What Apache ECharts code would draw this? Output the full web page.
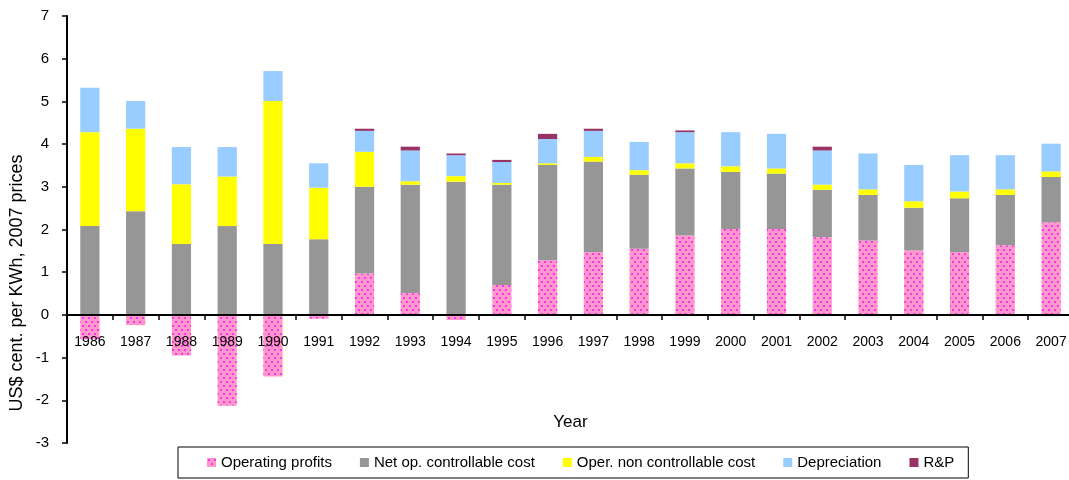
<!DOCTYPE html>
<html>
<head>
<meta charset="utf-8">
<script src="https://cdn.jsdelivr.net/npm/echarts@6/dist/echarts.min.js"></script>
<style>
  html, body { margin: 0; padding: 0; background: #fff; }
  #chart { width: 1069px; height: 480px; }
</style>
</head>
<body>
<div id="chart"></div>
<script>
// Electricity cost breakdown, US$ cent per kWh at 2007 prices
const years = ['1986','1987','1988','1989','1990','1991','1992','1993','1994','1995','1996',
               '1997','1998','1999','2000','2001','2002','2003','2004','2005','2006','2007'];
const operatingProfits = [-0.57,-0.24,-0.95,-2.13,-1.44,-0.09,0.97,0.51,-0.12,0.70,1.28,
                          1.47,1.55,1.86,2.01,2.01,1.82,1.74,1.51,1.47,1.63,2.17];
const netControllable  = [2.08,2.43,1.66,2.08,1.66,1.77,2.03,2.54,3.12,2.35,2.23,
                          2.12,1.73,1.57,1.34,1.30,1.11,1.07,1.00,1.26,1.18,1.06];
const nonControllable  = [2.20,1.93,1.40,1.16,3.35,1.21,0.82,0.08,0.13,0.04,0.04,
                          0.11,0.11,0.12,0.13,0.12,0.12,0.13,0.15,0.16,0.13,0.13];
const depreciation     = [1.04,0.65,0.87,0.69,0.70,0.57,0.49,0.72,0.49,0.49,0.57,
                          0.61,0.66,0.73,0.80,0.81,0.80,0.84,0.85,0.85,0.80,0.65];
const rAndP            = [0,0,0,0,0,0,0.05,0.09,0.04,0.05,0.12,
                          0.05,0,0.04,0,0,0.09,0,0,0,0,0];
const seriesNames = ['Operating profits','Net op. controllable cost','Oper. non controllable cost','Depreciation','R&P'];

const Y_MIN = -3, Y_MAX = 7;
const GRID_TOP = 16, GRID_BOTTOM = 37, CHART_H = 480;
// shift the category axis up from the grid bottom to the zero line
const plotH = CHART_H - GRID_TOP - GRID_BOTTOM;
const zeroOffset = -plotH * (0 - Y_MIN) / (Y_MAX - Y_MIN);

// dotted pink fill for the profit bars
function dotPattern() {
  const c = document.createElement('canvas');
  c.width = 6; c.height = 8;
  const g = c.getContext('2d');
  g.fillStyle = '#FF99CC';
  g.fillRect(0, 0, 6, 8);
  g.fillStyle = '#FF33EE';
  g.fillRect(1, 1, 2, 2);
  g.fillRect(4, 5, 2, 2);
  return { image: c, repeat: 'repeat' };
}

const FONT = 'Liberation Sans, Arial, sans-serif';
const chart = echarts.init(document.getElementById('chart'), null, { renderer: 'canvas' });

function bar(name, data, color) {
  return {
    name: name,
    type: 'bar',
    stack: 'total',
    data: data,
    barWidth: '42%',
    itemStyle: { color: color },
    emphasis: { disabled: true }
  };
}

chart.setOption({
  animation: false,
  backgroundColor: '#ffffff',
  textStyle: { fontFamily: FONT },
  grid: { left: 67, right: -5, top: GRID_TOP, bottom: GRID_BOTTOM, containLabel: false, outerBoundsMode: 'none' },
  legend: {
    data: seriesNames,
    left: 178,
    top: 447,
    orient: 'horizontal',
    icon: 'rect',
    itemWidth: 9,
    itemHeight: 9,
    itemGap: 28,
    padding: [8, 14, 8, 29],
    borderColor: '#000',
    borderWidth: 1,
    selectedMode: false,
    textStyle: { fontSize: 15, color: '#000', fontFamily: FONT }
  },
  xAxis: {
    type: 'category',
    data: years,
    position: 'bottom',
    offset: zeroOffset,
    z: 10,
    name: 'Year',
    nameLocation: 'middle',
    nameGap: 99,
    nameTextStyle: { fontSize: 17, color: '#000', fontFamily: FONT },
    axisLine: { onZero: false, lineStyle: { color: '#000', width: 2 } },
    axisTick: { show: true, alignWithLabel: false, length: 5, lineStyle: { color: '#000', width: 1.5 } },
    axisLabel: { fontSize: 14, color: '#000', margin: 20, fontFamily: FONT, interval: 0 },
    splitLine: { show: false }
  },
  yAxis: {
    type: 'value',
    min: Y_MIN,
    max: Y_MAX,
    interval: 1,
    axisLine: { show: true, lineStyle: { color: '#000', width: 2 } },
    axisTick: { show: true, length: 5, lineStyle: { color: '#000', width: 1.5 } },
    axisLabel: { fontSize: 15, color: '#000', margin: 18, fontFamily: FONT },
    splitLine: { show: false }
  },
  graphic: [{
    type: 'text',
    x: 17,
    y: 283,
    rotation: Math.PI / 2,
    style: {
      text: 'US$ cent. per KWh, 2007 prices',
      fill: '#000',
      font: '18px ' + FONT,
      align: 'center',
      verticalAlign: 'middle'
    }
  }],
  series: [
    bar(seriesNames[0], operatingProfits, dotPattern()),
    bar(seriesNames[1], netControllable, '#969696'),
    bar(seriesNames[2], nonControllable, '#FFFF00'),
    bar(seriesNames[3], depreciation, '#99CCFF'),
    bar(seriesNames[4], rAndP, '#993366')
  ]
});
</script>
</body>
</html>
